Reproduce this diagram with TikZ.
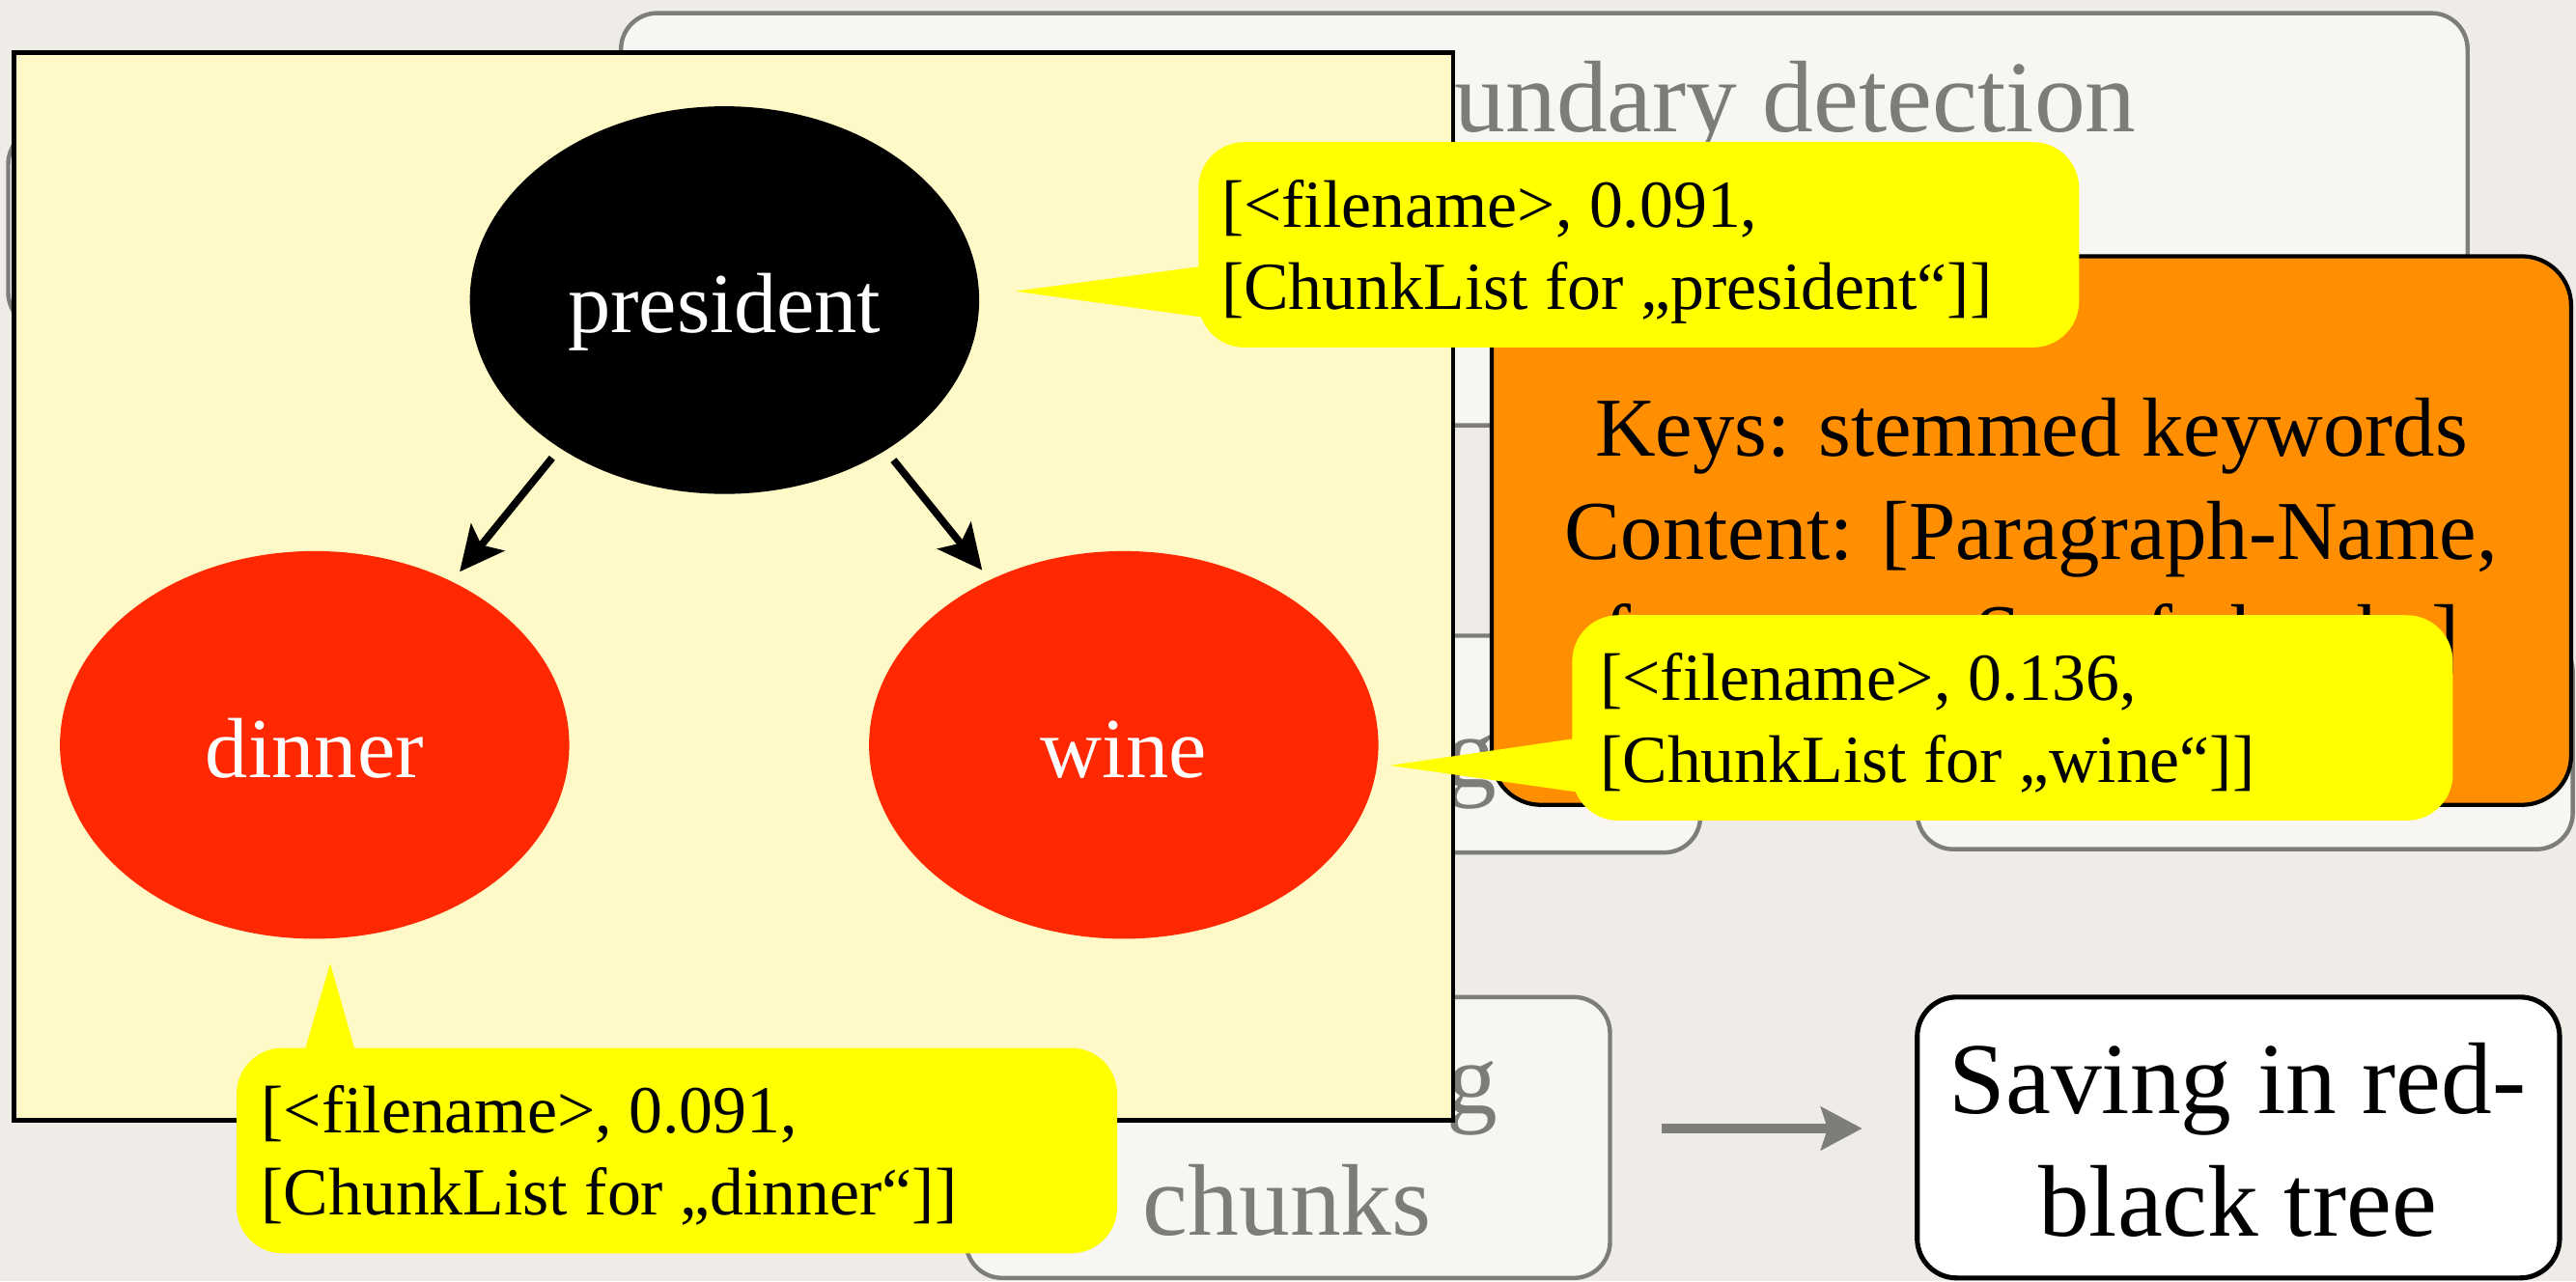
\documentclass[tikz,border=0pt]{standalone}
\usepackage{fontspec}
\setmainfont{Liberation Serif}
\usetikzlibrary{arrows.meta,calc,shapes.geometric}

\definecolor{bgcol}{RGB}{239,236,231}
\definecolor{fadefill}{RGB}{247,246,243}
\definecolor{fadeline}{RGB}{125,125,122}
\definecolor{fadetext}{RGB}{125,124,121}
\definecolor{panelcol}{RGB}{255,249,199}
\definecolor{nodered}{RGB}{255,40,0}
\definecolor{bubyellow}{RGB}{255,255,0}
\definecolor{keyorange}{RGB}{255,143,0}

\begin{document}
\begin{tikzpicture}[x=1pt,y=-1pt,
  fadebox/.style={draw=fadeline, fill=fadefill, line width=2.6pt, rounded corners=22pt, inner sep=0pt},
  fadetxt/.style={text=fadetext, font=\fontsize{62}{74}\selectfont, inner sep=0pt},
  bigtxt/.style={text=black, font=\fontsize{62}{74}\selectfont, inner sep=0pt, anchor=base},
  treenode/.style={ellipse, minimum width=310pt, minimum height=236pt, inner sep=0pt,
    text=white, font=\fontsize{52}{60}\selectfont, text height=40pt, text depth=0pt},
  treearrow/.style={line width=4.5pt, -{Stealth[length=27pt,width=26pt,inset=6pt]},
    shorten <=7.5pt, shorten >=7.5pt},
  bubble/.style={fill=bubyellow, rounded corners=28pt, inner sep=0pt,
    minimum width=536pt, minimum height=125pt},
  bubtxt/.style={font=\fontsize{41}{50}\selectfont, inner sep=0pt, anchor=base west},
  keytxt/.style={font=\fontsize{51}{63}\selectfont, inner sep=0pt, anchor=base},
]
% canvas
\fill[bgcol] (0,0) rectangle (1568,780);
\useasboundingbox (0,0) rectangle (1568,780);

% faded process boxes in the background
\node[fadebox, minimum width=1124pt, minimum height=251pt] (boxA) at (940,133.5) {};
\node[fadebox, minimum width=355pt, minimum height=122pt] (boxL) at (182.5,139) {};
\node[fadebox, minimum width=435pt, minimum height=132pt] (boxB) at (817.5,453) {};
\node[fadebox, minimum width=399pt, minimum height=130pt] (boxC) at (1366.5,452) {};
\node[fadebox, minimum width=392pt, minimum height=171pt] (boxD) at (784,692.5) {};
\node[fadetxt, anchor=base east] (tA) at (1300.5,80) {undary detection};
\node[fadetxt, anchor=base west] (tB) at (880,479) {ga};
\node[fadetxt, anchor=base east] (tD1) at (912,678) {g};
\node[fadetxt, anchor=base] (tD2) at (783.5,752) {chunks};

% result box
\node[draw=black, fill=white, line width=3pt, rounded corners=24pt, inner sep=0pt,
      minimum width=391pt, minimum height=171pt] (save) at (1362.5,692.5) {};
\node[bigtxt] (save1) at (1362,678) {Saving in red-};
\node[bigtxt] (save2) at (1362,752.6) {black tree};

\draw[line width=6pt, draw=fadeline, -{Stealth[length=25pt,width=26pt,inset=4pt]}]
  ($(boxD.east)+(30,-5.5)$) -- ($(save.west)+(-32,-5.5)$);

% orange key/content callout
\node[draw=black, fill=keyorange, line width=2.5pt, rounded corners=30pt, inner sep=0pt,
      minimum width=657pt, minimum height=334pt] (keys) at (1236.5,323) {};
\filldraw[fill=keyorange, draw=black, line width=2.5pt, line join=miter]
  ($(keys.south)+(133.5,-12)$) -- ($(keys.south)+(148.5,-92)$) -- ($(keys.south)+(163.5,-12)$);
\node[keytxt] (k1) at (1236.5,277.6) {Keys: stemmed keywords};
\node[keytxt] (k2) at (1236.5,340.6) {Content: [Paragraph-Name,};
\node[keytxt] (k3) at (1236.5,403.6) {frequency, Set of chunks]};

% red-black tree panel
\node[draw=black, fill=panelcol, line width=2.9pt, inner sep=0pt,
      minimum width=876pt, minimum height=650pt] (panel) at (446.5,357) {};
\node[treenode, fill=black] (pres) at (441,182.7) {president};
\node[treenode, fill=nodered] (dinner) at (191.5,453.5) {dinner};
\node[treenode, fill=nodered] (wine) at (684,453.5) {wine};
\draw[treearrow] (pres.222) -- (dinner.50);
\draw[treearrow] (pres.317) -- (wine.129);

% speech bubbles with the stored values
\coordinate (ptip) at (618,177.3);
\coordinate (wtip) at (846,466);
\coordinate (dtip) at (201,586.5);

\node[bubble] (pbub) at (997.5,149) {};
\fill[bubyellow] ($(pbub.north west)+(4,75.6)$) -- (ptip) -- ($(pbub.north west)+(4,107)$) -- cycle;
\node[bubtxt] (p1) at ($(pbub.north west)+(14,52)$) {[<filename>, 0.091,};
\node[bubtxt] (p2) at ($(pbub.north west)+(14,102)$) {[ChunkList for „president“]]};

\node[bubble] (wbub) at (1225,437) {};
\fill[bubyellow] ($(wbub.north west)+(4,75)$) -- (wtip) -- ($(wbub.north west)+(4,108)$) -- cycle;
\node[bubtxt] (w1) at ($(wbub.north west)+(17,52)$) {[<filename>, 0.136,};
\node[bubtxt] (w2) at ($(wbub.north west)+(17,102)$) {[ChunkList for „wine“]]};

\node[bubble] (dbub) at (412,700.5) {};
\fill[bubyellow] ($(dbub.north west)+(41,4)$) -- (dtip) -- ($(dbub.north west)+(73,4)$) -- cycle;
\node[bubtxt] (d1) at ($(dbub.north west)+(15,52)$) {[<filename>, 0.091,};
\node[bubtxt] (d2) at ($(dbub.north west)+(15,102)$) {[ChunkList for „dinner“]]};
\end{tikzpicture}
\end{document}
